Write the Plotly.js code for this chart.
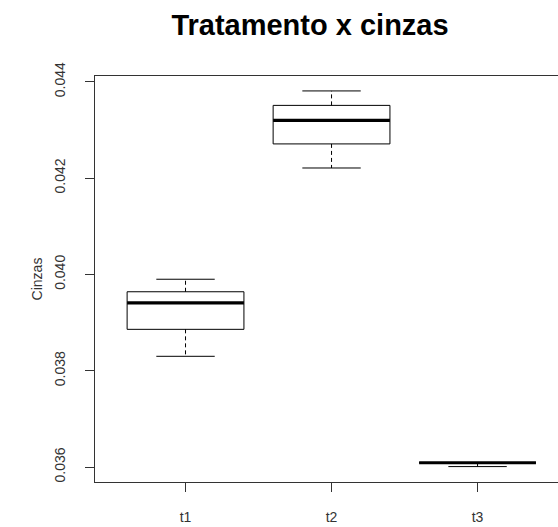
<!DOCTYPE html>
<html>
<head>
<meta charset="utf-8">
<script src="https://cdn.plot.ly/plotly-3.0.1.min.js"></script>
<style>
  html, body { margin: 0; padding: 0; background: #fff; }
  #chart { width: 558px; height: 527px; }
</style>
</head>
<body>
<div id="chart"></div>
<script>
// Treatment groups and their five-number summaries (ash content)
const categories = ['t1', 't2', 't3'];
const lowerWhisker = [0.03830, 0.04221, 0.03601];
const q1Values     = [0.03886, 0.04271, 0.03609];
const medians      = [0.03941, 0.04320, 0.03609];
const q3Values     = [0.03964, 0.04351, 0.03609];
const upperWhisker = [0.03990, 0.04381, 0.03609];
const yTicks = [0.036, 0.038, 0.040, 0.042, 0.044];

// Box geometry in category units (box half width, staple half width)
const HALF_BOX = 0.4;
const HALF_CAP = 0.2;

const boxX = [], boxY = [];
const medX = [], medY = [];
const whiskX = [], whiskY = [];
const capX = [], capY = [];

categories.forEach((c, i) => {
  const x = i + 1;
  // box outline
  boxX.push(x - HALF_BOX, x + HALF_BOX, x + HALF_BOX, x - HALF_BOX, x - HALF_BOX, null);
  boxY.push(q1Values[i], q1Values[i], q3Values[i], q3Values[i], q1Values[i], null);
  // median bar
  medX.push(x - HALF_BOX, x + HALF_BOX, null);
  medY.push(medians[i], medians[i], null);
  // dashed whiskers
  whiskX.push(x, x, null, x, x, null);
  whiskY.push(q3Values[i], upperWhisker[i], null, q1Values[i], lowerWhisker[i], null);
  // staples
  capX.push(x - HALF_CAP, x + HALF_CAP, null, x - HALF_CAP, x + HALF_CAP, null);
  capY.push(upperWhisker[i], upperWhisker[i], null, lowerWhisker[i], lowerWhisker[i], null);
});

const lineTrace = (x, y, width, dash) => ({
  type: 'scatter', mode: 'lines', x: x, y: y,
  line: { color: '#000', width: width, dash: dash || 'solid' },
  hoverinfo: 'skip', showlegend: false, connectgaps: false
});

const data = [
  lineTrace(whiskX, whiskY, 1, '4px,3px'),
  lineTrace(capX, capY, 1),
  lineTrace(boxX, boxY, 1),
  lineTrace(medX, medY, 3.2)
];

const FONT = '"Liberation Sans", Arial, sans-serif';

const layout = {
  width: 558,
  height: 527,
  margin: { l: 95, r: 0, t: 76, b: 45, pad: 0 },
  paper_bgcolor: '#fff',
  plot_bgcolor: '#fff',
  font: { family: FONT, size: 14, color: '#000' },
  title: {
    text: '<b>Tratamento x cinzas</b>',
    font: { family: FONT, size: 29, color: '#000' },
    xref: 'container', yref: 'container',
    x: 310 / 558, xanchor: 'center',
    y: 1 - 25 / 527, yanchor: 'middle'
  },
  xaxis: {
    range: [0.38, 3.551],
    tickmode: 'array',
    tickvals: categories.map((c, i) => i + 1),
    ticktext: categories,
    ticks: 'outside', ticklen: 9, tickwidth: 1, tickcolor: '#333',
    showline: true, linecolor: '#333', linewidth: 1, mirror: true,
    showgrid: false, zeroline: false,
    ticklabelstandoff: 13,
    tickfont: { family: FONT, size: 14, color: '#333' },
    fixedrange: true
  },
  yaxis: {
    range: [0.03569, 0.04412],
    tickmode: 'array',
    tickvals: yTicks,
    ticktext: yTicks.map(v => v.toFixed(3)),
    tickangle: -90,
    ticks: 'outside', ticklen: 9, tickwidth: 1, tickcolor: '#333',
    showline: true, linecolor: '#333', linewidth: 1, mirror: false,
    showgrid: false, zeroline: false,
    ticklabelstandoff: 14,
    tickfont: { family: FONT, size: 14, color: '#333' },
    title: { text: 'Cinzas', font: { family: FONT, size: 14, color: '#333' }, standoff: 6 },
    automargin: false,
    fixedrange: true
  }
};

Plotly.newPlot('chart', data, layout, { displayModeBar: false, staticPlot: true });
</script>
</body>
</html>
